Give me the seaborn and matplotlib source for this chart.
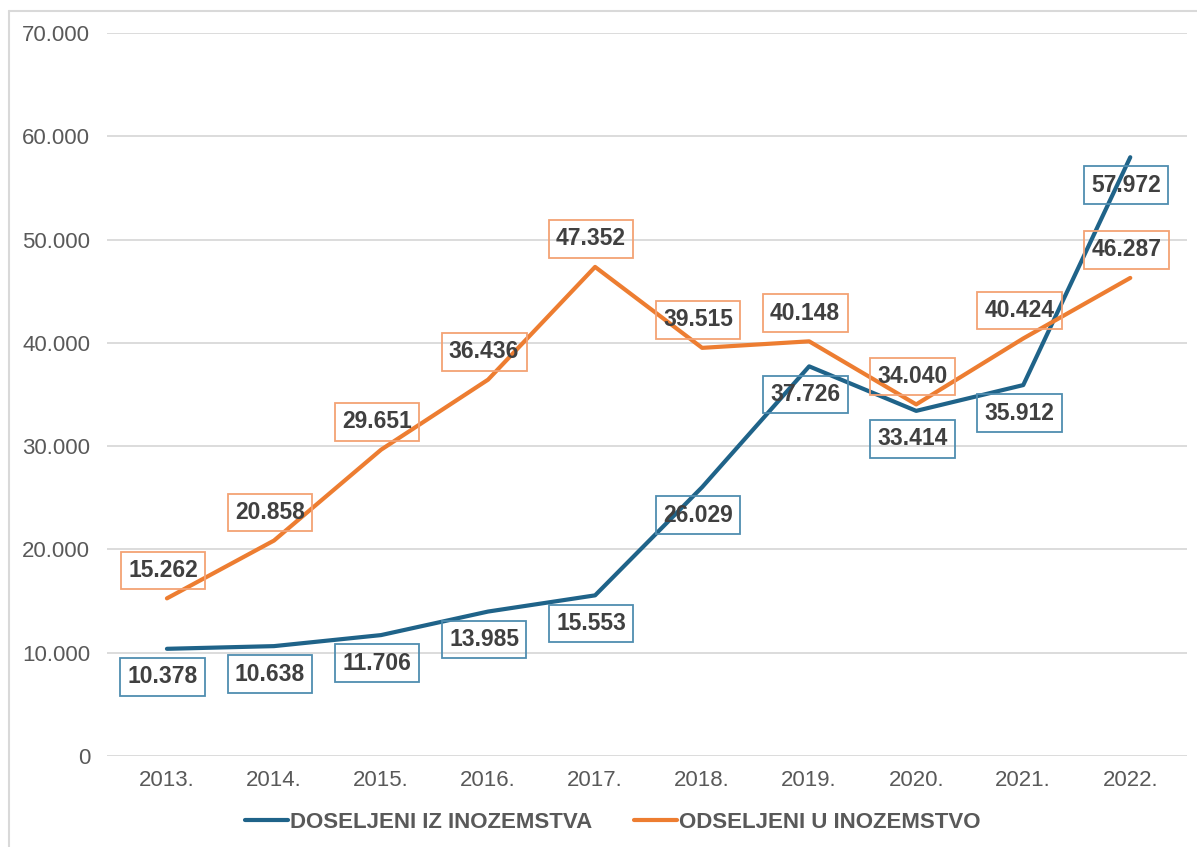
import numpy as np
import pandas as pd
import matplotlib
matplotlib.use('Agg')
import matplotlib.pyplot as plt
import seaborn as sns

years = ['2013.', '2014.', '2015.', '2016.', '2017.', '2018.', '2019.', '2020.', '2021.', '2022.']
doseljeni = [10378, 10638, 11706, 13985, 15553, 26029, 37726, 33414, 35912, 57972]
odseljeni = [15262, 20858, 29651, 36436, 47352, 39515, 40148, 34040, 40424, 46287]
yticks = [0, 10000, 20000, 30000, 40000, 50000, 60000, 70000]

blue = '#1f6389'
orange = '#ed7d31'

def fmt(v):
    return f'{v:,}'.replace(',', '.')

sns.set_theme(style='white')
plt.rcParams['font.family'] = ['Liberation Sans', 'DejaVu Sans']

df = pd.DataFrame({
    'x': list(range(len(years))) * 2,
    'value': doseljeni + odseljeni,
    'serija': ['DOSELJENI IZ INOZEMSTVA'] * len(years) + ['ODSELJENI U INOZEMSTVO'] * len(years),
})

fig = plt.figure(figsize=(11.97, 8.47), dpi=100)
ax = fig.add_axes([107 / 1197, 91 / 847, 1080 / 1197, 723 / 847])

sns.lineplot(data=df, x='x', y='value', hue='serija',
             palette={'DOSELJENI IZ INOZEMSTVA': blue, 'ODSELJENI U INOZEMSTVO': orange},
             linewidth=3, ax=ax, legend=False)

ax.set_xlim(-0.56, 9.53)
ax.set_ylim(0, 70000)
ax.set_yticks(yticks)
ax.set_yticklabels([fmt(t) for t in yticks])
ax.set_xticks(range(len(years)))
ax.set_xticklabels(years)
ax.tick_params(axis='y', length=0, pad=12, labelsize=16, labelcolor='#595959')
ax.tick_params(axis='x', length=0, pad=10, labelsize=16, labelcolor='#595959')
ax.set_xlabel('')
ax.set_ylabel('')
ax.yaxis.grid(True, color='#d9d9d9', linewidth=1.3)
ax.set_axisbelow(True)
for s in ax.spines.values():
    s.set_visible(False)

for i, v in enumerate(odseljeni):
    ax.annotate(fmt(v), (i, v), xytext=(-4, 28), textcoords='offset pixels',
                ha='center', va='center', fontsize=16.5, fontweight='bold', color='#404040',
                bbox=dict(boxstyle='square,pad=0.32', fc='none', ec='#f3a274', lw=1.3))
for i, v in enumerate(doseljeni):
    ax.annotate(fmt(v), (i, v), xytext=(-4, -28), textcoords='offset pixels',
                ha='center', va='center', fontsize=16.5, fontweight='bold', color='#404040',
                bbox=dict(boxstyle='square,pad=0.32', fc='none', ec='#4f8db0', lw=1.3))

handles = [plt.Line2D([], [], color=blue, lw=3), plt.Line2D([], [], color=orange, lw=3)]
fig.legend(handles, ['DOSELJENI IZ INOZEMSTVA', 'ODSELJENI U INOZEMSTVO'],
           loc='center', bbox_to_anchor=(0.512, 0.0295), ncol=2, frameon=False,
           handlelength=1.9, handletextpad=0.1, columnspacing=1.9,
           prop={'size': 16, 'weight': 'bold'}, labelcolor='#595959')

# light frame (only left and top are visible in the original crop)
fig.add_artist(plt.Line2D([9 / 1197, 9 / 1197], [0, 1 - 11 / 847], color='#d9d9d9', lw=1.5))
fig.add_artist(plt.Line2D([9 / 1197, 1], [1 - 11 / 847, 1 - 11 / 847], color='#d9d9d9', lw=1.5))

fig.savefig('out.png', dpi=100, facecolor='white')
